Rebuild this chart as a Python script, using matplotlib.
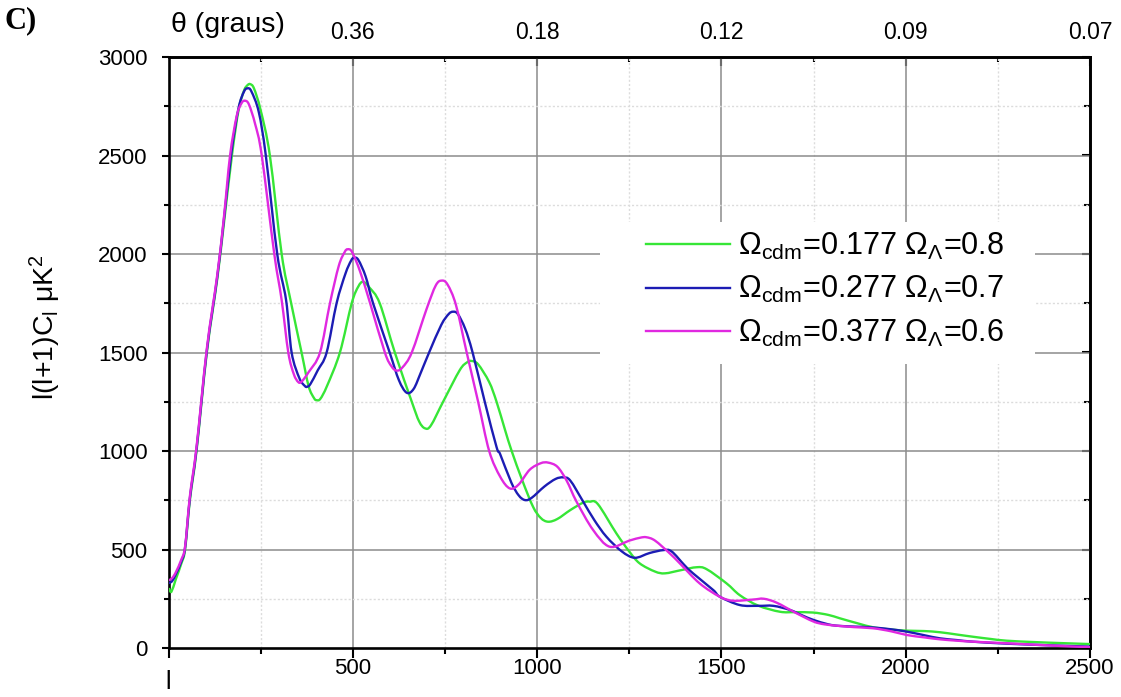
import matplotlib
matplotlib.use("Agg")
import matplotlib.pyplot as plt
from matplotlib.patches import Rectangle, PathPatch
from matplotlib.path import Path
from matplotlib.lines import Line2D
import numpy as np

plt.rcParams['font.family'] = ['Liberation Sans', 'DejaVu Sans']
plt.rcParams['mathtext.fontset'] = 'custom'
plt.rcParams['mathtext.rm'] = 'Liberation Sans'
plt.rcParams['mathtext.it'] = 'Liberation Sans:italic'
plt.rcParams['mathtext.bf'] = 'Liberation Sans:bold'

# ---------------- data ----------------
l_green = [2, 8, 20, 35, 45, 58, 76, 104, 132, 150, 172, 190, 205, 215, 222, 232, 250, 275,
           307, 331, 361, 380, 395, 402, 412, 430, 465, 497, 515, 528, 545, 573, 614, 660,
           680, 696, 712, 745, 790, 810, 822, 840, 870, 890, 913, 931, 960, 989, 1010, 1030,
           1055, 1090, 1125, 1143, 1165, 1215, 1250, 1278, 1320, 1347, 1390, 1433, 1460,
           1514, 1550, 1600, 1659, 1700, 1749, 1790, 1821, 1870, 1912, 1960, 2003, 2050,
           2093, 2140, 2183, 2230, 2274, 2350, 2420, 2500]
c_green = [300, 286, 350, 430, 500, 750, 1000, 1500, 1870, 2150, 2500, 2730, 2830, 2858, 2862,
           2840, 2730, 2500, 2000, 1766, 1500, 1330, 1268, 1258, 1265, 1330, 1500, 1750, 1835,
           1859, 1830, 1750, 1500, 1250, 1150, 1115, 1130, 1250, 1410, 1450, 1457, 1440, 1350,
           1250, 1107, 1000, 850, 717, 660, 641, 655, 700, 738, 743, 730, 582, 490, 430, 388,
           379, 395, 410, 400, 328, 268, 215, 184, 182, 180, 168, 151, 125, 105, 94, 88, 86,
           80, 68, 57, 46, 37, 30, 25, 20]

l_blue = [2, 10, 20, 35, 45, 58, 76, 104, 132, 150, 171, 190, 205, 215, 225, 245, 264, 295,
          319, 334, 355, 370, 376, 385, 405, 429, 456, 480, 495, 503, 515, 535, 555, 600, 625,
          646, 665, 685, 707, 740, 760, 772, 785, 805, 825, 858, 890, 900, 930, 950, 967, 985,
          1020, 1050, 1071, 1090, 1125, 1155, 1188, 1230, 1265, 1305, 1343, 1365, 1400, 1423,
          1478, 1496, 1550, 1600, 1641, 1686, 1720, 1749, 1790, 1821, 1870, 1912, 1960, 2003,
          2050, 2093, 2140, 2183, 2274, 2400, 2500]
c_blue = [330, 340, 375, 440, 510, 760, 1010, 1510, 1880, 2170, 2520, 2740, 2825, 2841, 2825,
          2720, 2500, 2000, 1766, 1500, 1370, 1330, 1326, 1340, 1410, 1500, 1750, 1900, 1965,
          1981, 1970, 1885, 1750, 1500, 1360, 1296, 1315, 1400, 1500, 1640, 1695, 1707, 1695,
          1620, 1500, 1250, 1020, 983, 840, 775, 751, 762, 820, 858, 866, 850, 743, 650, 565,
          490, 458, 482, 497, 490, 420, 379, 294, 260, 218, 214, 214, 193, 165, 143, 120, 112,
          108, 104, 95, 83, 65, 49, 40, 32, 22, 13, 7]

l_mag = [2, 10, 20, 35, 45, 58, 76, 104, 132, 150, 167, 185, 198, 207, 218, 235, 253, 287,
         307, 325, 340, 352, 361, 380, 411, 438, 462, 478, 486, 498, 520, 547, 587, 605, 619,
         635, 660, 700, 725, 741, 757, 780, 809, 840, 870, 900, 926, 950, 980, 1010, 1030,
         1055, 1080, 1107, 1152, 1197, 1250, 1280, 1297, 1320, 1360, 1387, 1441, 1496, 1532,
         1586, 1615, 1650, 1700, 1749, 1780, 1821, 1860, 1912, 1960, 2003, 2050, 2093, 2140,
         2183, 2274, 2400, 2500]
c_mag = [345, 355, 385, 450, 515, 770, 1020, 1520, 1890, 2180, 2500, 2700, 2765, 2778, 2760,
         2660, 2500, 2000, 1766, 1500, 1390, 1350, 1352, 1400, 1500, 1750, 1940, 2010, 2024,
         2010, 1910, 1750, 1500, 1430, 1408, 1425, 1500, 1720, 1840, 1865, 1845, 1740, 1500,
         1250, 1000, 869, 810, 830, 905, 938, 941, 920, 850, 743, 599, 514, 545, 560, 562,
         545, 480, 430, 328, 260, 240, 246, 250, 230, 180, 135, 120, 112, 106, 100, 85, 66,
         54, 44, 37, 32, 24, 12, 4]

series_labels = [r'$\Omega_{\rm cdm}$=0.177 $\Omega_{\Lambda}$=0.8',
                 r'$\Omega_{\rm cdm}$=0.277 $\Omega_{\Lambda}$=0.7',
                 r'$\Omega_{\rm cdm}$=0.377 $\Omega_{\Lambda}$=0.6']
series_colors = ['#36e636', '#1c1cb4', '#e028e0']

top_tick_pos = [500, 1000, 1500, 2000, 2500]
top_tick_labels = ['0.36', '0.18', '0.12', '0.09', '0.07']
x_major = [0, 500, 1000, 1500, 2000, 2500]
x_major_labels = ['', '500', '1000', '1500', '2000', '2500']
x_minor = [250, 750, 1250, 1750, 2250]
y_major = [0, 500, 1000, 1500, 2000, 2500, 3000]
y_minor = [250, 750, 1250, 1750, 2250, 2750]


def smooth_path(xs, ys):
    """Bezier (spline-style) connection through the read points."""
    p = np.column_stack([xs, ys]).astype(float)
    n = len(p)
    verts = [p[0]]
    codes = [Path.MOVETO]
    for i in range(n - 1):
        pm = p[i - 1] if i > 0 else p[i]
        pn2 = p[i + 2] if i + 2 < n else p[i + 1]
        c1 = p[i] + (p[i + 1] - pm) / 6.0
        c2 = p[i + 1] - (pn2 - p[i]) / 6.0
        verts += [c1, c2, p[i + 1]]
        codes += [Path.CURVE4] * 3
    return Path(verts, codes)


# ---------------- figure ----------------
W, H = 1121, 697
fig = plt.figure(figsize=(W / 100, H / 100), dpi=100)
x0, x1 = 168.5, 1090.0
y0, y1 = 648.0, 57.0
ax = fig.add_axes([x0 / W, 1 - y0 / H, (x1 - x0) / W, (y0 - y1) / H])

ax.set_xlim(0, 2500)
ax.set_ylim(0, 3000)

# grid
for v in x_major[1:-1]:
    ax.axvline(v, color='#8c8c8c', lw=1.1, zorder=0.5)
for v in x_minor:
    ax.axvline(v, color='#dcdcdc', lw=1.0, ls=(0, (1.5, 1.5)), zorder=0.5)
for v in y_major[1:-1]:
    ax.axhline(v, color='#8c8c8c', lw=1.1, zorder=0.5)
for v in y_minor:
    ax.axhline(v, color='#dcdcdc', lw=1.0, ls=(0, (1.5, 1.5)), zorder=0.5)

# white legend backing box (covers grid)
px2ax_x = lambda px: (px - x0) / (x1 - x0)
px2ax_y = lambda py: (y0 - py) / (y0 - y1)
ax.add_patch(Rectangle((px2ax_x(600), px2ax_y(364)), px2ax_x(1035) - px2ax_x(600),
                       px2ax_y(222) - px2ax_y(364), transform=ax.transAxes,
                       facecolor='white', edgecolor='none', zorder=1))

handles = []
for lx, cy, col, lab in zip([l_green, l_blue, l_mag], [c_green, c_blue, c_mag],
                            series_colors, series_labels):
    ax.add_patch(PathPatch(smooth_path(lx, cy), facecolor='none', edgecolor=col,
                           lw=1.7, zorder=3, joinstyle='round', capstyle='round'))
    handles.append(Line2D([], [], color=col, lw=1.7, label=lab))

for s in ax.spines.values():
    s.set_linewidth(1.9)
    s.set_color('black')

ax.set_xticks(x_major)
ax.set_xticklabels(x_major_labels)
ax.set_xticks(x_minor, minor=True)
ax.set_yticks(y_major)
ax.set_yticks(y_minor, minor=True)
ax.tick_params(axis='x', which='major', direction='out', length=7, width=1.5,
               labelsize=16, pad=0.5)
ax.tick_params(axis='x', which='minor', direction='out', length=4.5, width=1.5)
ax.tick_params(axis='y', which='major', direction='out', length=5, width=1.5,
               labelsize=16, pad=10)
ax.tick_params(axis='y', which='minor', direction='out', length=3.5, width=1.5)

# right spine ticks inward
secy = ax.secondary_yaxis('right')
secy.set_yticks(y_major)
secy.set_yticks(y_minor, minor=True)
secy.tick_params(which='major', direction='in', length=6, width=1.5, labelright=False)
secy.tick_params(which='minor', direction='in', length=4, width=1.5)
secy.spines['right'].set_linewidth(1.9)

# top axis (theta)
secx = ax.secondary_xaxis('top')
secx.set_xticks(top_tick_pos)
secx.set_xticklabels(top_tick_labels)
secx.set_xticks(x_minor, minor=True)
secx.tick_params(which='major', direction='in', length=6.5, width=1.5, labelsize=16.5, pad=9)
secx.tick_params(which='minor', direction='in', length=3.5, width=1.5)
secx.spines['top'].set_linewidth(1.9)

# legend
leg = ax.legend(handles=handles, loc='upper left',
                bbox_to_anchor=(px2ax_x(646), px2ax_y(231)),
                frameon=False, fontsize=22, handlelength=2.75, handletextpad=0.27,
                labelspacing=0.4, borderpad=0.0, borderaxespad=0.0)

# texts
fig.text(5 / W, 1 - 21 / H, 'C)', fontsize=22, fontweight='bold',
         family=['Liberation Serif', 'DejaVu Serif'], va='center', ha='left')
fig.text(171 / W, 1 - 25 / H, 'θ (graus)', fontsize=20.5, va='center', ha='left')
fig.text(168 / W, 1 - 682 / H, 'l', fontsize=18, va='center', ha='center')
fig.text(45 / W, 1 - 327 / H, 'l(l+1)C$_{\\rm l}$ μK$^{2}$', fontsize=20.5,
         rotation=90, va='center', ha='center')

fig.savefig('out.png', dpi=100)
